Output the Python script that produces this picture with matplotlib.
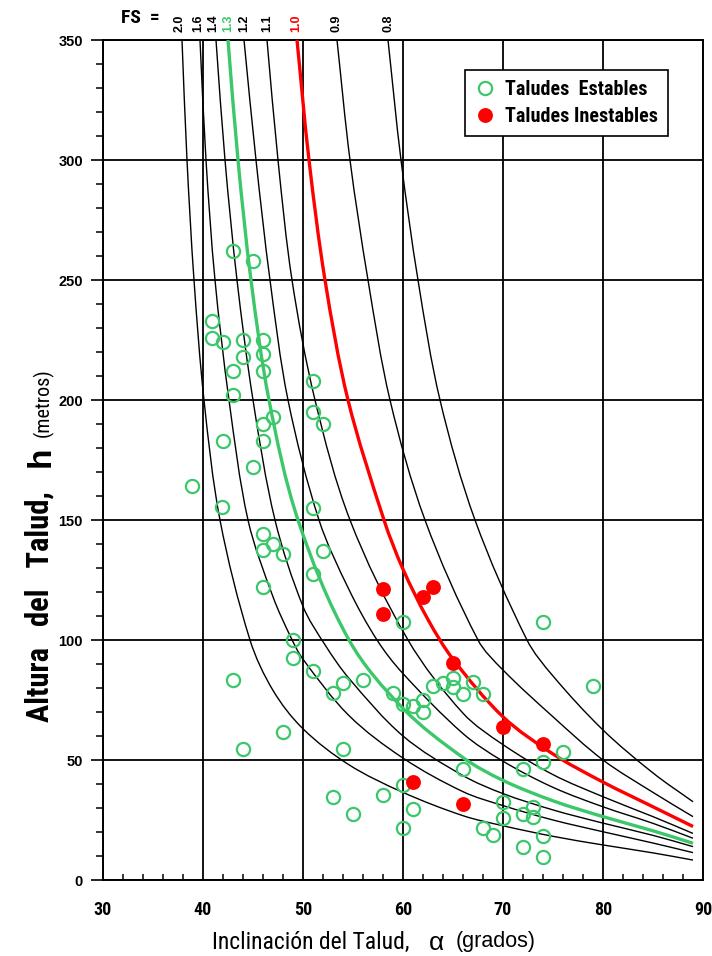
import matplotlib
matplotlib.use("Agg")
import numpy as np
import matplotlib.pyplot as plt
from matplotlib import font_manager
from matplotlib.path import Path
from matplotlib.patches import PathPatch

plt.rcParams['font.family'] = ['Liberation Sans', 'DejaVu Sans']


def pick_font(names):
    for name in names:
        try:
            font_manager.findfont(name, fallback_to_default=False)
            return name
        except ValueError:
            pass
    return 'Liberation Sans'


NARROW = pick_font(['Liberation Sans Narrow', 'Roboto Condensed', 'Liberation Sans'])

GREEN = '#3cc76a'
RED = '#ff0000'

# FS curves, digitised as (alpha, h) pairs
fs_labels = ['2.0', '1.6', '1.4', '1.3', '1.2', '1.1', '1.0', '0.9', '0.8']
fs_label_alpha = [37.7, 39.5, 41.0, 42.5, 44.1, 46.4, 49.3, 53.3, 58.5]
fs_alpha = [
    [37.9, 38.4, 39.1, 40.1, 41.7, 44.7, 47, 50, 54.6, 60, 66, 70, 75, 80, 85, 89],
    [39.7, 40.3, 41.2, 42.6, 44.5, 47, 48.8, 50, 54.6, 60, 66, 70, 75, 80, 85, 89],
    [41.3, 42.2, 43.4, 45.0, 47.2, 50, 52.2, 54.6, 60, 66, 70, 75, 80, 85, 89],
    [42.5, 43.5, 44.8, 46.6, 49.5, 54.6, 60, 66, 70, 75, 80, 85, 89],
    [44.1, 45.3, 46.7, 48.5, 51.6, 54.6, 57.4, 60, 66, 70, 75, 80, 85, 89],
    [46.4, 47.5, 48.9, 51.2, 54.7, 60.5, 66, 70, 75, 80, 85, 89],
    [49.4, 50.6, 52.2, 54.5, 58.1, 60, 62.5, 65, 70, 75, 80, 85, 89],
    [53.4, 54.7, 56.5, 58.7, 62.2, 67.5, 70, 75, 80, 85, 89],
    [58.5, 59.8, 61.5, 63.7, 67.2, 72.4, 75, 80, 85, 89],
]
fs_h = [
    [350, 300, 250, 200, 150, 100, 79, 63, 48, 36.5, 26.8, 22.6, 18.2, 14.6, 11.3, 8.3],
    [350, 300, 250, 200, 150, 118, 101, 92, 68.5, 50.8, 36.8, 31, 25, 20.1, 15.4, 11.4],
    [350, 300, 250, 200, 150, 114, 98, 84, 60, 43.5, 36, 29.2, 23.7, 18.6, 13.9],
    [350, 300, 250, 200, 150, 100, 71.5, 51, 41.5, 33, 26.4, 20.5, 15.3],
    [350, 300, 250, 200, 150, 121, 100, 86, 61, 49.5, 38.6, 30.5, 23.6, 17.4],
    [350, 300, 250, 200, 150, 100, 69.5, 56.4, 43.9, 34.7, 26.4, 19.4],
    [350, 300, 250, 200, 150, 129.5, 108.5, 92, 68, 52.5, 40.8, 30.5, 22.3],
    [350, 300, 250, 200, 150, 100, 87.5, 68, 50, 36.5, 26.4],
    [350, 300, 250, 200, 150, 100, 85, 62.5, 44.6, 32.6],
]

stable_alpha = [38.9, 40.9, 40.9, 42.0, 43.0, 45.0, 44.0, 46.0, 46.0, 44.0, 43.0, 46.0,
                43.0, 51.0, 47.0, 46.0, 51.0, 52.0, 46.0, 42.0, 45.0, 41.9, 51.0, 46.0,
                47.0, 46.0, 48.0, 52.0, 51.0, 46.0, 49.0, 49.0, 43.0, 51.0, 53.0, 54.0,
                56.0, 59.0, 60.0, 61.0, 62.0, 62.0, 63.0, 64.0, 65.0, 65.0, 66.0, 67.0,
                68.0, 60.0, 74.0, 79.0, 76.0, 74.0, 72.0, 66.0, 60.0, 61.0, 60.0, 70.0,
                70.0, 68.0, 69.0, 72.0, 73.0, 73.0, 72.0, 74.0, 74.0, 48.0, 44.0, 54.0,
                53.0, 55.0, 58.0]
stable_h = [164, 233, 226, 224, 262, 258, 225, 225, 219, 218, 212, 212,
            202, 208, 193, 190, 195, 190, 183, 183, 172, 155.5, 155, 144,
            140, 137.5, 136, 137, 127.5, 122, 100, 92.5, 83.5, 87, 78, 82,
            83.5, 78, 73.5, 72.7, 75, 70, 80.7, 82, 84, 80.6, 77.5, 82.7,
            77.5, 107.5, 107.5, 81, 53.5, 49.3, 46.3, 46.3, 39.6, 29.6, 21.5, 32.6,
            25.7, 21.5, 18.7, 27.5, 30.5, 26.4, 13.6, 18.3, 9.4, 61.6, 54.6, 54.6,
            34.7, 27.5, 35.4]

unstable_alpha = [58.0, 58.0, 62.0, 63.0, 65.0, 70.0, 74.0, 61.0, 66.0]
unstable_h = [121.3, 110.8, 117.8, 122.0, 90.5, 63.9, 56.7, 40.9, 31.5]


def smooth_path(xs, ys, sx=10.0, sy=2.4):
    '''
    Bezier path through the digitised points (tangents from neighbours),
    worked out in an isotropic pixel-like space.
    '''
    p = np.column_stack([np.asarray(xs, float) * sx, np.asarray(ys, float) * sy])
    n = len(p)
    tang = np.zeros_like(p)
    for i in range(n):
        a = p[max(i - 1, 0)]
        b = p[min(i + 1, n - 1)]
        d = b - a
        tang[i] = d / np.hypot(*d)
    verts = [p[0]]
    codes = [Path.MOVETO]
    for i in range(n - 1):
        seg = np.hypot(*(p[i + 1] - p[i]))
        verts += [p[i] + tang[i] * seg / 3, p[i + 1] - tang[i + 1] * seg / 3, p[i + 1]]
        codes += [Path.CURVE4] * 3
    verts = np.array(verts) / [sx, sy]
    return Path(verts, codes)


fig = plt.figure(figsize=(7.12, 9.56), dpi=100)
ax = fig.add_axes([103 / 712, 76 / 956, 600 / 712, 840 / 956])

for lab, lx, xs, ys in zip(fs_labels, fs_label_alpha, fs_alpha, fs_h):
    if lab == '1.3':
        color, lw, z = GREEN, 2.4, 4
    elif lab == '1.0':
        color, lw, z = RED, 2.4, 4
    else:
        color, lw, z = 'black', 1.0, 3
    ax.add_patch(PathPatch(smooth_path(xs, ys), facecolor='none', edgecolor=color,
                           lw=lw, zorder=z))
    ax.annotate(lab, xy=(lx, 1.0), xycoords=('data', 'axes fraction'),
                xytext=(0, 6), textcoords='offset points', rotation=90,
                ha='center', va='bottom', fontsize=9, fontweight='bold',
                color=color, annotation_clip=False)

ax.plot(stable_alpha, stable_h, 'o', mfc='none', mec=GREEN, ms=9.5, mew=1.6,
        zorder=5, label='Taludes  Estables')
ax.plot(unstable_alpha, unstable_h, 'o', mfc=RED, mec=RED, ms=9.5, mew=1.2,
        zorder=6, label='Taludes Inestables')

ax.set_xlim(30, 90)
ax.set_ylim(0, 350)
ax.set_xticks(range(30, 91, 10))
ax.set_xticks(range(30, 91, 2), minor=True)
ax.set_yticks(range(0, 351, 50))
ax.set_yticks(range(0, 351, 10), minor=True)
ax.grid(which='major', color='black', lw=1.3, zorder=1)
for s in ax.spines.values():
    s.set_linewidth(1.4)
    s.set_zorder(2)

ax.tick_params(axis='x', which='major', direction='in', length=0, pad=15)
ax.tick_params(axis='x', which='minor', direction='in', length=4.5, width=1.1)
ax.tick_params(axis='y', which='major', direction='out', length=8.5, width=1.2,
               pad=6, labelsize=10.5)
ax.tick_params(axis='y', which='minor', direction='out', length=5, width=1.1)
for t in ax.get_xticklabels():
    t.set_fontfamily(NARROW)
    t.set_fontsize(13)
    t.set_fontweight('bold')
for t in ax.get_yticklabels():
    t.set_fontweight('bold')

leg = ax.legend(loc='upper left', bbox_to_anchor=(0.603, 0.964), frameon=True,
                fancybox=False, framealpha=1, edgecolor='black',
                prop={'family': NARROW, 'weight': 'bold', 'size': 14.5},
                handletextpad=0.5, borderpad=0.5, labelspacing=0.4,
                handlelength=1.0, borderaxespad=0)
leg.get_frame().set_linewidth(1.2)

fig.text(121 / 712, 1 - 18 / 956, 'FS  =', fontsize=14, fontweight='bold',
         family=NARROW, ha='left', va='center')

# x axis title in pieces
fig.text(410 / 712, 1 - 942 / 956, 'Inclinación del Talud,', fontsize=17,
         family=NARROW, ha='right', va='center')
fig.text(437 / 712, 1 - 943 / 956, 'α', fontsize=19, ha='center', va='center')
fig.text(456 / 712, 1 - 942 / 956, '(grados)', fontsize=15.5, ha='left', va='center')

# y axis title in pieces
fig.text(40 / 712, 1 - 722 / 956, 'Altura   del   Talud,', fontsize=22,
         fontweight='bold', family=NARROW, rotation=90, ha='center', va='bottom')
fig.text(41 / 712, 1 - 457 / 956, 'h', fontsize=24, fontweight='bold',
         rotation=90, ha='center', va='center')
fig.text(43 / 712, 1 - 437 / 956, '(metros)', fontsize=14.5, family=NARROW,
         rotation=90, ha='center', va='bottom')

fig.savefig('out.png', dpi=100)
